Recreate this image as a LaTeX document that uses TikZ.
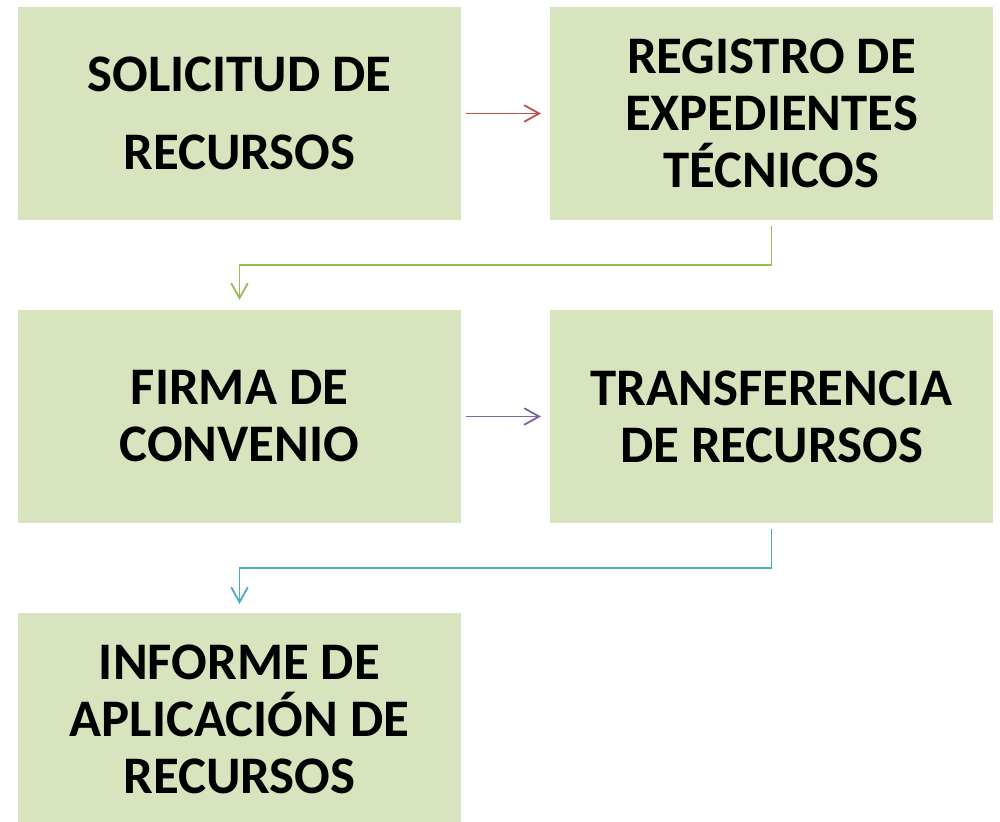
\documentclass[tikz,border=0pt]{standalone}
\usepackage{fontspec}
\setmainfont{Carlito}
\usetikzlibrary{arrows.meta}
\definecolor{boxgreen}{HTML}{D7E4BD}
\definecolor{redline}{HTML}{C0504D}
\definecolor{greenline}{HTML}{9BBB59}
\definecolor{purpleline}{HTML}{8064A2}
\definecolor{blueline}{HTML}{4BACC6}
\begin{document}
\begin{tikzpicture}[x=0.5pt,y=-0.5pt,
  box/.style={rectangle,fill=boxgreen,minimum width=221.5pt,minimum height=106.5pt,
    inner sep=0,outer sep=0,align=center,font=\fontsize{26.4}{28.5}\selectfont\bfseries},
  link/.style={line width=0.9pt,-{Straight Barb[length=7.5pt,width=8.3pt]}}]

  \useasboundingbox (0,0) rectangle (1000,822);

  \node (sol) at (239.5,113.5) [box]{SOLICITUD DE\\[10.5pt]RECURSOS};
  \node (reg) at (771.5,113.5) [box]{REGISTRO DE\\EXPEDIENTES\\TÉCNICOS};
  \node (firma) at (239.5,416.5) [box]{FIRMA DE\\CONVENIO};
  \node (trans) at (771.5,416.5) [box]{TRANSFERENCIA\\DE RECURSOS};
  \node (inf) at (239.5,719.5) [box]{INFORME DE\\APLICACIÓN DE\\RECURSOS};

  \coordinate (g) at (500,265);
  \coordinate (b) at (500,568);

  \draw[link,redline,shorten <=2.5pt,shorten >=4.5pt] (sol) -- (reg);
  \draw[link,greenline,shorten <=3pt,shorten >=5pt] (reg.south) |- (g) -| (firma.north);
  \draw[link,purpleline,shorten <=2.5pt,shorten >=4.5pt] (firma) -- (trans);
  \draw[link,blueline,shorten <=3pt,shorten >=4.5pt] (trans.south) |- (b) -| (inf.north);

\end{tikzpicture}
\end{document}
